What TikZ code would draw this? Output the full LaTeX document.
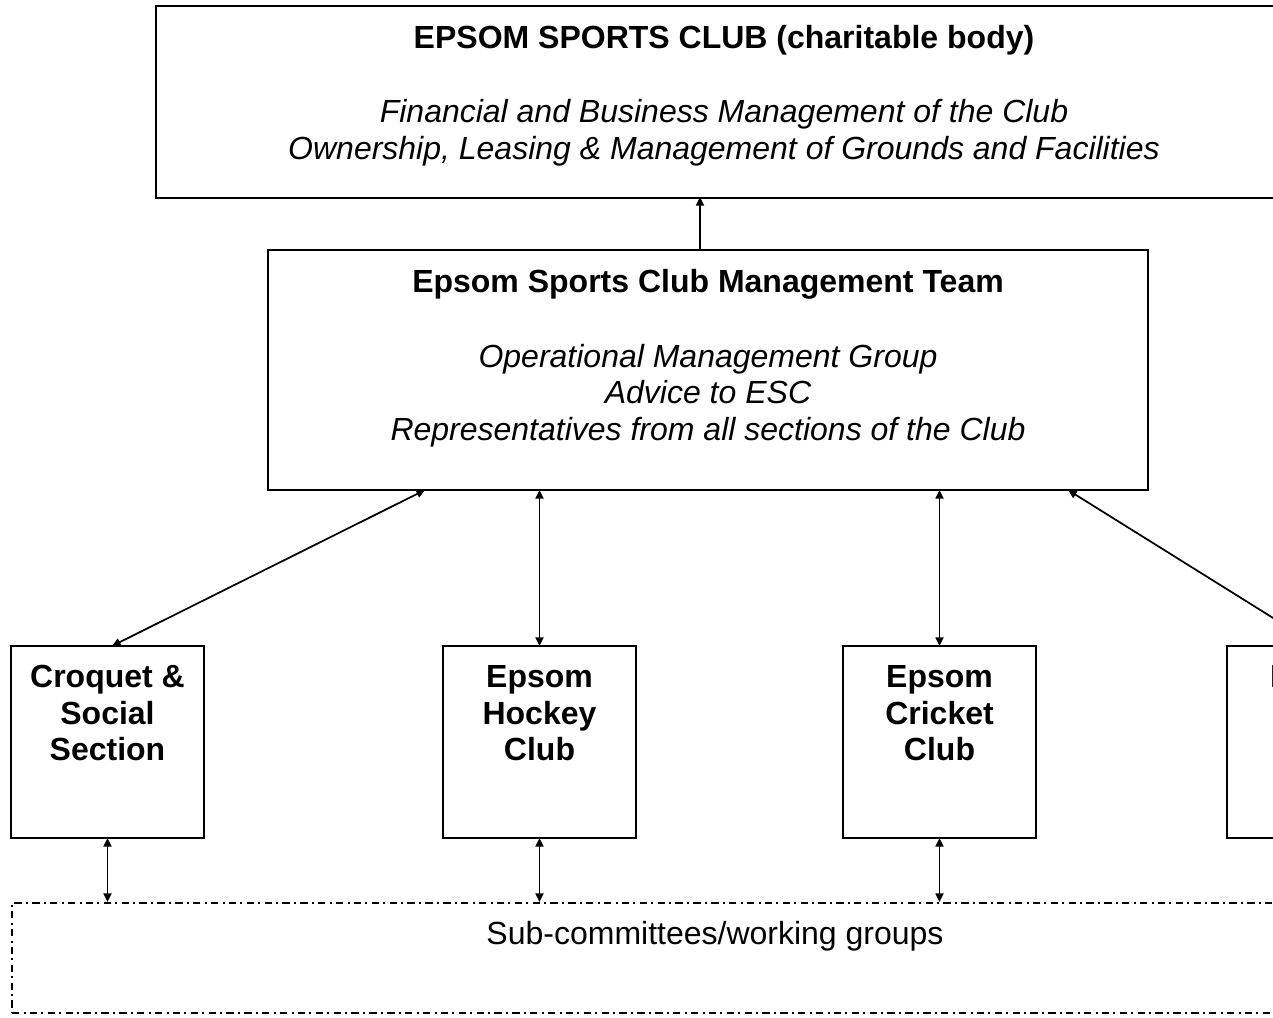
\documentclass[tikz,border=0pt]{standalone}
\usepackage{fontspec}
\setmainfont{Liberation Sans}
\usetikzlibrary{arrows.meta}
\begin{document}
\begin{tikzpicture}[x=0.75pt,y=-0.75pt,
  box/.style={draw=black,line width=1.5pt,inner sep=0pt,outer sep=0pt,fill=none},
  subbox/.style={box,minimum width=144.75pt,minimum height=144pt},
  grp/.style={draw=black,line width=1.4pt,inner sep=0pt,outer sep=0pt,
    dash pattern=on 5.5pt off 3.2pt on 1.5pt off 3.2pt},
  txt/.style={anchor=base,inner sep=0pt,font=\fontsize{24}{27.6}\selectfont},
  btxt/.style={txt,font=\fontsize{24}{27.6}\selectfont\bfseries},
  itxt/.style={txt,font=\fontsize{24}{27.6}\selectfont\itshape},
  tip/.tip={Triangle[length=6.5pt,width=6pt]},
  link/.style={line width=1.3pt,tip-tip},
  uplink/.style={line width=1.3pt,-tip}]
\useasboundingbox (0,0) rectangle (1273,1017);
\clip (0,0) rectangle (1273,1017);
% top box
\node[box,minimum width=852pt,minimum height=144pt] (esc) at (724,102) {};
\node[btxt] (escT) at (724,48) {EPSOM SPORTS CLUB (charitable body)};
\node[itxt] (escA) at (724,122) {Financial and Business Management of the Club};
\node[itxt] (escB) at (724,159) {Ownership, Leasing \& Management of Grounds and Facilities};
% management team
\node[box,minimum width=660pt,minimum height=180pt] (mt) at (708,370) {};
\node[btxt] (mtT) at (708,292) {Epsom Sports Club Management Team};
\node[itxt] (mtA) at (708,367) {Operational Management Group};
\node[itxt] (mtB) at (708,403) {Advice to ESC};
\node[itxt] (mtC) at (708,440) {Representatives from all sections of the Club};
% sections
\node[subbox] (cro) at (107.5,742) {};
\node[btxt] (croA) at (107.5,687) {Croquet \&};
\node[btxt] (croB) at (107.5,724) {Social};
\node[btxt] (croC) at (107.5,760) {Section};
\node[subbox] (hoc) at (539.5,742) {};
\node[btxt] (hocA) at (539.5,687) {Epsom};
\node[btxt] (hocB) at (539.5,724) {Hockey};
\node[btxt] (hocC) at (539.5,760) {Club};
\node[subbox] (cri) at (939.5,742) {};
\node[btxt] (criA) at (939.5,687) {Epsom};
\node[btxt] (criB) at (939.5,724) {Cricket};
\node[btxt] (criC) at (939.5,760) {Club};
\node[subbox] (fth) at (1323.5,742) {};
\node[btxt] (fthA) at (1323.5,687) {Epsom};
% sub-committees
\node[grp,minimum width=1054.5pt,minimum height=82.5pt] (sub) at (715,958) {};
\node[txt] (subT) at (715,944) {Sub-committees/working groups};
% coordinates for connectors
\coordinate (mtTop) at (700,250);
\coordinate (escBot) at (700,197);
\coordinate (mtL) at (425,490);
\coordinate (mtH) at (539.5,490);
\coordinate (mtC2) at (939.5,490);
\coordinate (mtR) at (1068,490);
\coordinate (croT) at (112,646);
\coordinate (fthT) at (1318,646);
\coordinate (croBt) at (107.5,838);
\coordinate (hocBt) at (539.5,838);
\coordinate (criBt) at (939.5,838);
\coordinate (subA) at (107.5,902);
\coordinate (subB) at (539.5,902);
\coordinate (subC) at (939.5,902);
% connectors
\draw[uplink] (mtTop) -- (escBot);
\draw[link] (croT) -- (mtL);
\draw[link] (hoc.north) -- (mtH);
\draw[link] (cri.north) -- (mtC2);
\draw[link] (fthT) -- (mtR);
\draw[link] (croBt) -- (subA);
\draw[link] (hocBt) -- (subB);
\draw[link] (criBt) -- (subC);
\end{tikzpicture}
\end{document}
